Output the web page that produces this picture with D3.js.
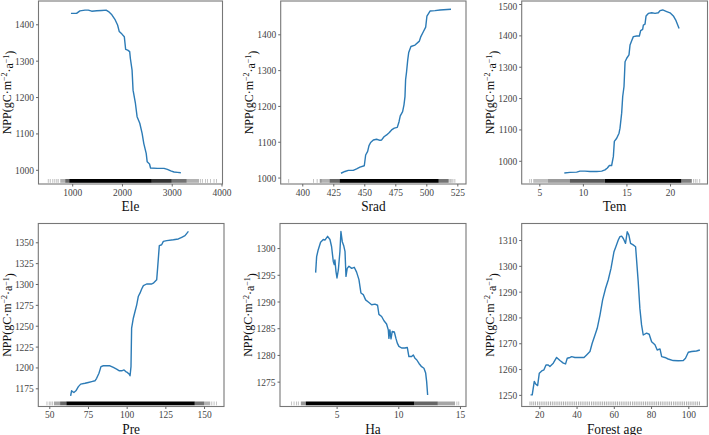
<!DOCTYPE html>
<html><head><meta charset="utf-8">
<script src="https://cdn.jsdelivr.net/npm/d3@7"></script>
<style>body{margin:0;background:#fff}svg{display:block}
svg text{font-family:'Liberation Serif','Times New Roman',serif !important;}</style>
</head><body>
<svg id="c" width="709" height="435"></svg>
<script>
// ---------- data ----------
const eleX=[975,1088,1155,1257,1324,1392,1493,1595,1682,1730,1797,1865,1912,1946,2000,2047,2074,2115,2155,2169,2203,2223,2270,2304,2358,2405,2439,2487,2507,2554,2574,2710,2845,2912,2980,3047,3115,3183];
const eleNPP=[1430,1430,1437,1439,1439,1436,1437,1438,1439,1435,1426,1412,1398,1380,1373,1366,1331,1329,1325,1306,1274,1219,1183,1146,1128,1100,1072,1045,1022,1016,1005,1004,1004,1001,997,994,993,992];
const sradX=[431.2,434.4,437.1,441.1,443.8,446.5,450,451.1,452.7,453.8,455.1,457.3,459.9,462.6,464,465.9,468,470.2,472,474.2,476.6,478,479,480.9,482,482.8,483.3,484.1,485,485.8,487.6,490.9,494.4,495.4,497.6,499.5,500.5,503,507,511,519.9];
const sradNPP=[1012,1017,1020,1020,1024,1029,1033,1063,1073,1089,1098,1105,1107,1104,1105,1114,1119,1126,1133,1138,1140,1156,1172,1184,1203,1226,1273,1296,1328,1349,1366,1370,1381,1392,1407,1420,1451,1465,1466,1468,1470];
const temX=[7.87,8.52,9.29,9.67,10.24,10.82,11.58,12.16,12.54,12.81,13.04,13.3,13.5,13.61,13.88,14.15,14.26,14.45,14.57,14.72,14.84,15.03,15.29,15.41,15.6,15.79,16.17,16.48,16.63,16.86,16.94,17.13,17.25,17.51,17.9,18.28,18.66,18.85,19.16,19.62,20,20.38,20.69,21.04];
const temNPP=[961,963,964,967,967,966,966,967,971,977,985,985,1014,1062,1072,1088,1104,1152,1205,1237,1316,1327,1338,1369,1383,1396,1398,1398,1415,1419,1433,1436,1462,1470,1472,1470,1472,1479,1481,1476,1472,1462,1447,1422];
const preX=[63.8,64.4,65.9,67.2,68.8,70.3,73.1,75.2,77.4,79.5,80.6,82.1,83.4,84.9,87.1,89.2,91.4,93.5,95.3,96.8,98.3,99.4,100.4,101.7,102.2,102.8,103.2,104.3,105.4,106.5,107.5,108.6,109.7,110.8,112.9,116.2,117.2,119.4,120,121.1,122.6,123.7,125.9,130.2,133.4,135.6,137.7,139.9];
const preNPP=[1166,1172,1170,1172,1177,1180,1181,1182,1183,1184,1187,1193,1201,1202,1202,1202,1200,1198,1196,1196,1197,1195,1194,1192,1190,1201,1247,1259,1267,1275,1285,1289,1294,1298,1300,1300,1301,1305,1319,1346,1347,1351,1352,1353,1354,1356,1358,1363];
const haX=[3.3,3.38,3.51,3.7,3.92,4.05,4.27,4.46,4.59,4.73,4.81,4.86,4.95,5.03,5.14,5.27,5.35,5.46,5.57,5.68,5.76,5.86,6.0,6.22,6.43,6.62,6.81,6.97,7.16,7.35,7.57,7.84,8.11,8.32,8.43,8.65,8.84,9.05,9.19,9.24,9.32,9.41,9.51,9.68,9.81,9.92,10.05,10.27,10.54,10.73,10.86,11.08,11.22,11.35,11.49,11.68,11.89,12.08,12.22,12.3,12.38];
const haNPP=[1295.4,1298.4,1299.7,1301.1,1301.6,1301.5,1302.2,1301.6,1300.3,1297.5,1296.9,1297.8,1295.6,1294.4,1295.9,1299.4,1303.1,1301.2,1300.5,1299.4,1294.7,1296.2,1296.6,1296.2,1296.4,1295.5,1294.1,1291.6,1291.3,1290.3,1289.9,1289.4,1289.5,1289.3,1287.6,1287.2,1286.4,1285.8,1284.7,1283.1,1284.7,1283,1284.4,1284.3,1283.1,1282.2,1281.6,1281.3,1281.3,1281.4,1279.7,1279.7,1280,1279.4,1279.1,1278.4,1277.8,1277.5,1276.6,1275,1272.5];
const ageX=[15.3,16.2,17.3,18.2,19.1,20,21.3,22.5,23.6,24.8,25.7,27.5,29.3,31.1,32.9,34.1,35,36.5,37.4,39.1,41.8,44,45.4,47.2,48.4,49.9,51.1,52.6,54,55.6,57,58.5,60.1,61.1,62.4,63.3,64.2,65.1,66.3,67.2,68.1,69,70.4,71.7,73.1,74,74.9,75.8,77.6,79,80.3,82.1,83.3,84.8,85.7,87.4,89.2,91.9,94.6,97.3,98.5,100,101.8,104.4,106.2];
const ageNPP=[1250,1250,1255.2,1254.1,1253.6,1258.4,1259.3,1259.7,1261.6,1261.6,1261,1262.3,1264.5,1263.3,1262.3,1262,1264.2,1264.5,1264.8,1264.5,1264.5,1264.5,1265.5,1266.8,1270,1273.2,1275.8,1281,1286.8,1291.3,1294.5,1299,1305.5,1307.4,1310,1311.3,1311.5,1310.6,1308.7,1313.2,1311.9,1308.7,1308.1,1307.4,1293.9,1283.5,1277.1,1273.2,1273.9,1273.5,1270.6,1269.4,1267.4,1267.8,1264.8,1264.5,1263.9,1263.3,1263.2,1263.3,1264.2,1266.5,1266.8,1267,1267.4];

// rug: density bands [from, to, opacity] and single rug ticks
const eleRugBands=[[760,860,0.3],[860,940,0.6],[940,2600,1],[2600,3000,0.8],[3000,3300,0.55],[3300,3550,0.3]];
const eleRugTicks=[520,560,610,650,690,720,3580,3620,3680,3720,3780,3850,3900];
const sradRugBands=[[414,422,0.3],[422,430,0.6],[430,510,1],[510,518,0.55]];
const sradRugTicks=[389,409,412,415,518.5,519.5,520.5,521.5,523];
const temRugBands=[[4.3,6,0.25],[6,8.5,0.4],[8.5,12.5,0.65],[12.5,21.3,1],[21.3,22.5,0.5]];
const temRugTicks=[3.9,4.1,22.7,22.9,23.1,23.4];
const preRugBands=[[53,57,0.35],[57,61,0.6],[61,144,1],[144,150,0.55],[150,154,0.3]];
const preRugTicks=[48.5,50,51,52,155,156.5,158];
const haRugBands=[[2.1,2.5,0.4],[2.5,11.3,1],[11.3,13.2,0.6],[13.2,14.6,0.35]];
const haRugTicks=[1.35,1.55,1.75,1.9,14.75,14.9];
const ageRugBands=[];
const ageRugTicks=[15,16,17,18,19,20,21,22,23,24,25,26,27,28,29,30,31,32,33,34,35,36,37,38,39,40,41,42,43,44,45,46,47,48,49,50,51,52,53,54,55,56,57,58,59,60,61,62,63,64,65,66,67,68,69,70,71,72,73,74,75,76,77,78,79,80,81,82,83,84,85,86,87,88,89,90,91,92,93,94,95,96,97,98,99,100,101,102,103,104,105,106];

// axis ticks
const eleTicks=[1000,2000,3000,4000], eleYTicks=[1000,1100,1200,1300,1400];
const sradTicks=[400,425,450,475,500,525], sradYTicks=[1000,1100,1200,1300,1400];
const temTicks=[5,10,15,20], temYTicks=[1000,1100,1200,1300,1400,1500];
const preTicks=[50,75,100,125,150], preYTicks=[1175,1200,1225,1250,1275,1300,1325,1350];
const haTicks=[5,10,15], haYTicks=[1275,1280,1285,1290,1295,1300];
const ageTicks=[20,40,60,80,100], ageYTicks=[1250,1260,1270,1280,1290,1300,1310];

const panels=[
 {title:'Ele',x:eleX,y:eleNPP,bands:eleRugBands,rug:eleRugTicks,xt:eleTicks,yt:eleYTicks,xd:[323,4020],yd:[961,1464],box:[38.5,222.5,1,184],rugOp:0.3},
 {title:'Srad',x:sradX,y:sradNPP,bands:sradRugBands,rug:sradRugTicks,xt:sradTicks,yt:sradYTicks,xd:[382.6,532],yd:[982,1493],box:[280.7,466,1,184],rugOp:0.3},
 {title:'Tem',x:temX,y:temNPP,bands:temRugBands,rug:temRugTicks,xt:temTicks,yt:temYTicks,xd:[2.98,24.3],yd:[926,1509.6],box:[521.7,707.5,1,184],rugOp:0.3},
 {title:'Pre',x:preX,y:preNPP,bands:preRugBands,rug:preRugTicks,xt:preTicks,yt:preYTicks,xd:[42.9,162.9],yd:[1153.2,1372.5],box:[38.3,224,223.5,406.5],rugOp:0.3},
 {title:'Ha',x:haX,y:haNPP,bands:haRugBands,rug:haRugTicks,xt:haTicks,yt:haYTicks,xd:[0.41,15.49],yd:[1270.35,1304.6],box:[280,466,223.5,406.5],rugOp:0.3},
 {title:'Forest age',x:ageX,y:ageNPP,bands:ageRugBands,rug:ageRugTicks,xt:ageTicks,yt:ageYTicks,xd:[10.55,110.2],yd:[1245.5,1316.4],box:[521.7,707.3,223.5,406.5],rugOp:0.4}
];

const svg=d3.select('#c');
function squeeze(sel,k){sel.each(function(){const L=this.getComputedTextLength();if(L>0)d3.select(this).attr('textLength',L*k).attr('lengthAdjust','spacingAndGlyphs');});}

panels.forEach(p=>{
  const [L,R,T,B]=p.box;
  const x=d3.scaleLinear().domain(p.xd).range([L,R]);
  const y=d3.scaleLinear().domain(p.yd).range([B,T]);
  const g=svg.append('g');
  // rug
  const rg=g.append('g');
  rg.selectAll('rect').data(p.bands).join('rect')
    .attr('x',d=>x(d[0])).attr('width',d=>x(d[1])-x(d[0]))
    .attr('y',B-5).attr('height',3.8).attr('fill','#000').attr('opacity',d=>d[2]);
  rg.selectAll('line').data(p.rug).join('line')
    .attr('x1',d=>x(d)).attr('x2',d=>x(d)).attr('y1',B-5).attr('y2',B-1.2)
    .attr('stroke','#000').attr('stroke-width',0.8).attr('opacity',p.rugOp);
  // line
  const pts=p.x.map((v,i)=>[v,p.y[i]]);
  g.append('path').datum(pts)
    .attr('d',d3.line().x(d=>x(d[0])).y(d=>y(d[1])))
    .attr('fill','none').attr('stroke','#2c7bb6').attr('stroke-width',1.4).attr('stroke-linejoin','round');
  // box
  g.append('rect').attr('x',L).attr('y',T).attr('width',R-L).attr('height',B-T)
    .attr('fill','none').attr('stroke','#777').attr('stroke-width',1.1);
  // axes
  const ax=g.append('g').attr('transform',`translate(0,${B})`)
    .call(d3.axisBottom(x).tickValues(p.xt).tickSize(2.5).tickPadding(1.5).tickFormat(d3.format('d')));
  const ay=g.append('g').attr('transform',`translate(${L},0)`)
    .call(d3.axisLeft(y).tickValues(p.yt).tickSize(2.5).tickPadding(2).tickFormat(d3.format('d')));
  [ax,ay].forEach(a=>{
    a.attr('font-family',null);
    a.select('.domain').remove();
    a.selectAll('line').attr('stroke','#666');
    a.selectAll('text').attr('font-size',11).attr('fill','#444');
    squeeze(a.selectAll('text'),0.86);
  });
  // keep a label that sits at the very top edge inside the picture
  ay.selectAll('text').attr('dy',d=>y(d)<6?(3.5+(6-y(d)))+'px':'0.32em');
  // x title
  const xt=g.append('text').attr('x',(L+R)/2).attr('y',B+27).attr('text-anchor','middle')
    .attr('font-size',15.5).attr('fill','#111').text(p.title);
  squeeze(xt,0.86);
  // y title
  const yt=g.append('text').attr('transform',`translate(${L-32},${(T+B)/2}) rotate(-90)`)
    .attr('text-anchor','middle').attr('dy','0.35em')
    .attr('font-size',12).attr('fill','#111');
  yt.append('tspan').text('NPP(gC·m');
  yt.append('tspan').attr('dy','-0.45em').attr('font-size',8).text('−2');
  yt.append('tspan').attr('dy','0.45em').text('·a');
  yt.append('tspan').attr('dy','-0.45em').attr('font-size',8).text('−1');
  yt.append('tspan').attr('dy','0.45em').text(')');
});
</script>
</body></html>
